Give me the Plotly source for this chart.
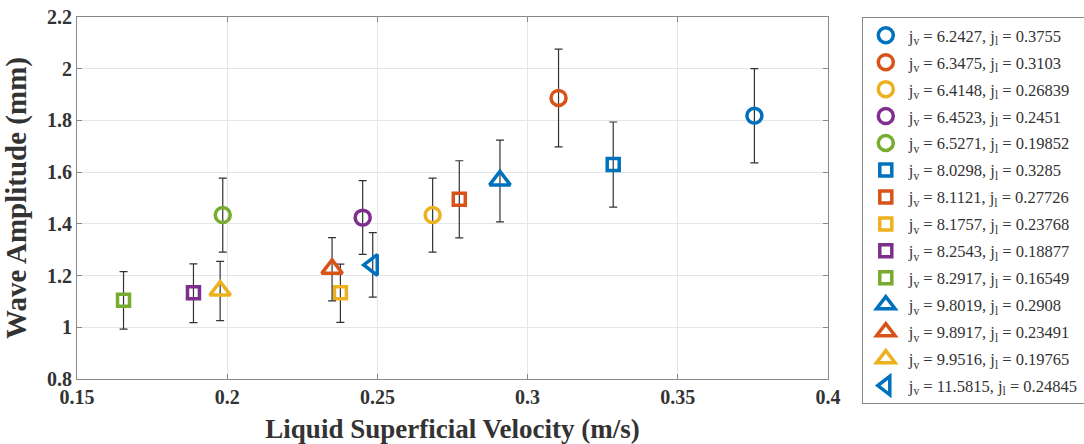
import plotly.graph_objects as go

labels = [
    "j<sub>v</sub> = 6.2427, j<sub>l</sub> = 0.3755",
    "j<sub>v</sub> = 6.3475, j<sub>l</sub> = 0.3103",
    "j<sub>v</sub> = 6.4148, j<sub>l</sub> = 0.26839",
    "j<sub>v</sub> = 6.4523, j<sub>l</sub> = 0.2451",
    "j<sub>v</sub> = 6.5271, j<sub>l</sub> = 0.19852",
    "j<sub>v</sub> = 8.0298, j<sub>l</sub> = 0.3285",
    "j<sub>v</sub> = 8.1121, j<sub>l</sub> = 0.27726",
    "j<sub>v</sub> = 8.1757, j<sub>l</sub> = 0.23768",
    "j<sub>v</sub> = 8.2543, j<sub>l</sub> = 0.18877",
    "j<sub>v</sub> = 8.2917, j<sub>l</sub> = 0.16549",
    "j<sub>v</sub> = 9.8019, j<sub>l</sub> = 0.2908",
    "j<sub>v</sub> = 9.8917, j<sub>l</sub> = 0.23491",
    "j<sub>v</sub> = 9.9516, j<sub>l</sub> = 0.19765",
    "j<sub>v</sub> = 11.5815, j<sub>l</sub> = 0.24845",
]
liquid_velocity = [0.3755, 0.3103, 0.26839, 0.2451, 0.19852, 0.3285, 0.27726,
                   0.23768, 0.18877, 0.16549, 0.2908, 0.23491, 0.19765, 0.24845]
amplitude = [1.818, 1.887, 1.434, 1.424, 1.434, 1.630, 1.495,
             1.134, 1.134, 1.105, 1.568, 1.226, 1.142, 1.241]
err_plus = [0.182, 0.189, 0.143, 0.143, 0.143, 0.164, 0.149,
            0.110, 0.111, 0.110, 0.156, 0.121, 0.113, 0.125]
err_minus = [0.182, 0.189, 0.143, 0.142, 0.143, 0.165, 0.149,
             0.115, 0.116, 0.112, 0.160, 0.124, 0.116, 0.124]
x_ticks = [0.15, 0.2, 0.25, 0.3, 0.35, 0.4]
y_ticks = [0.8, 1, 1.2, 1.4, 1.6, 1.8, 2, 2.2]
colors = ["#0072BD", "#D95319", "#EDB120", "#7E2F8E", "#77AC30",
          "#0072BD", "#D95319", "#EDB120", "#7E2F8E", "#77AC30",
          "#0072BD", "#D95319", "#EDB120", "#0072BD"]
symbols = ["circle-open"] * 5 + ["square-open"] * 5 + ["triangle-up-open"] * 3 + ["triangle-left-open"]
sizes = [15] * 5 + [12] * 5 + [18] * 3 + [18]

fig = go.Figure()
for i in range(len(labels)):
    fig.add_trace(go.Scatter(
        x=[liquid_velocity[i]], y=[amplitude[i]], mode="markers", name=labels[i],
        legendgroup=f"g{i}",
        marker=dict(symbol=symbols[i], size=sizes[i], color=colors[i],
                    line=dict(width=3.5, color=colors[i])),
        error_y=dict(type="data", symmetric=False, array=[err_plus[i]],
                     arrayminus=[err_minus[i]], color="#333333", thickness=1.2, width=4),
    ))

axis_common = dict(
    showline=True, linecolor="#888888", linewidth=1.2, mirror="ticks",
    showgrid=True, gridcolor="#e6e6e6", gridwidth=1,
    ticks="inside", ticklen=5, tickcolor="#888888",
    zeroline=False, automargin=False, ticklabeloverflow="allow",
    tickfont=dict(family="Liberation Serif", size=20, color="#333333", weight="bold"),
)

fig.update_layout(
    width=1084, height=444,
    margin=dict(l=77, r=256, t=17, b=65, autoexpand=False),
    paper_bgcolor="white", plot_bgcolor="white",
    font=dict(family="Liberation Serif", color="#333333"),
    xaxis=dict(range=[0.15, 0.4], tickvals=x_ticks, ticktext=[f"{v:g}" for v in x_ticks],
               title=dict(text="Liquid Superficial Velocity (m/s)",
                          font=dict(family="Liberation Serif", size=27, color="#333333", weight="bold"),
                          standoff=13),
               **axis_common),
    yaxis=dict(range=[0.8, 2.2], tickvals=y_ticks, ticktext=[f"{v:g}" for v in y_ticks],
               title=dict(text="Wave Amplitude (mm)",
                          font=dict(family="Liberation Serif", size=29, color="#333333", weight="bold"),
                          standoff=17),
               **axis_common),
    legend=dict(x=1.045, y=1.0, xanchor="left", yanchor="top",
                bordercolor="#888888", borderwidth=1, bgcolor="white",
                font=dict(family="Liberation Serif", size=16.5, color="#333333"),
                itemwidth=36, traceorder="grouped", tracegroupgap=2.5,
                maxheight=430),
    showlegend=True,
)

fig.write_html("out.html", config={"displayModeBar": False},
               post_script="document.body.style.margin='0px';")
